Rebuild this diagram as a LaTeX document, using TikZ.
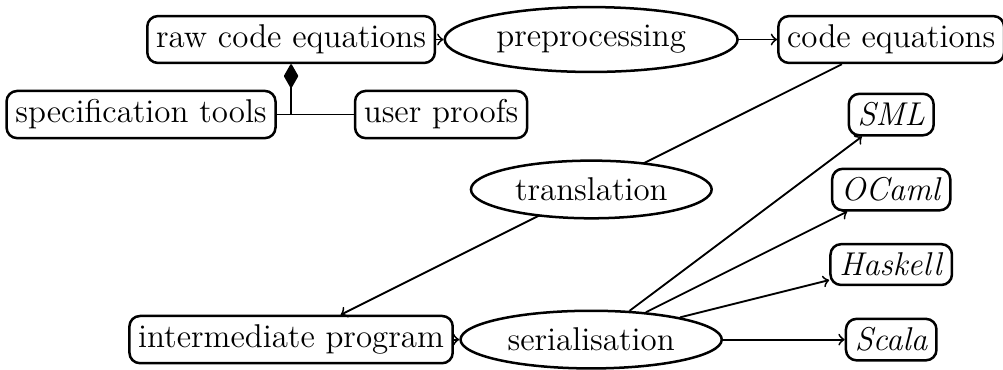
\documentclass[tikz,border=0pt]{standalone}
\usetikzlibrary{shapes.geometric,arrows}
\begin{document}
\begin{tikzpicture}[x=4cm,y=1cm,font=\fontsize{12.5}{15}\selectfont,
  entity/.style={rounded corners, draw, line width=0.95pt},
  process/.style={ellipse, draw, line width=0.95pt},
  link/.style={line width=0.7pt},
  arrow/.style={->, line width=0.7pt}]
  \useasboundingbox (-1.88cm,-0.393) rectangle (11.49cm,4.527);
  \node (spec) at (0, 3) [entity] {specification tools};
  \node (user) at (1, 3) [entity] {user proofs};
  \coordinate (join) at (0.5, 3);
  \node (raw) at (0.5, 4) [entity] {raw code equations};
  \node (pre) at (1.5, 4) [process] {preprocessing};
  \node (eqn) at (2.5, 4) [entity] {code equations};
  \node (iml) at (0.5, 0) [entity] {intermediate program};
  \node (seri) at (1.5, 0) [process] {serialisation};
  \node (SML) at (2.5, 3) [entity] {\textit{SML}};
  \node (OCaml) at (2.5, 2) [entity] {\textit{OCaml}};
  \node (Haskell) at (2.5, 1) [entity] {\textit{Haskell}};
  \node (Scala) at (2.5, 0) [entity] {\textit{Scala}};
  \draw [link] (spec) -- (join);
  \draw [link] (user) -- (join);
  \draw [-diamond, link] (join) -- (raw);
  \draw [arrow] (raw) -- (pre);
  \draw [arrow] (pre) -- (eqn);
  \draw [arrow] (eqn) -- node (transl) [process, fill=white] {translation} (iml);
  \draw [arrow] (iml) -- (seri);
  \draw [arrow] (seri) -- (SML);
  \draw [arrow] (seri) -- (OCaml);
  \draw [arrow] (seri) -- (Haskell);
  \draw [arrow] (seri) -- (Scala);
\end{tikzpicture}
\end{document}
